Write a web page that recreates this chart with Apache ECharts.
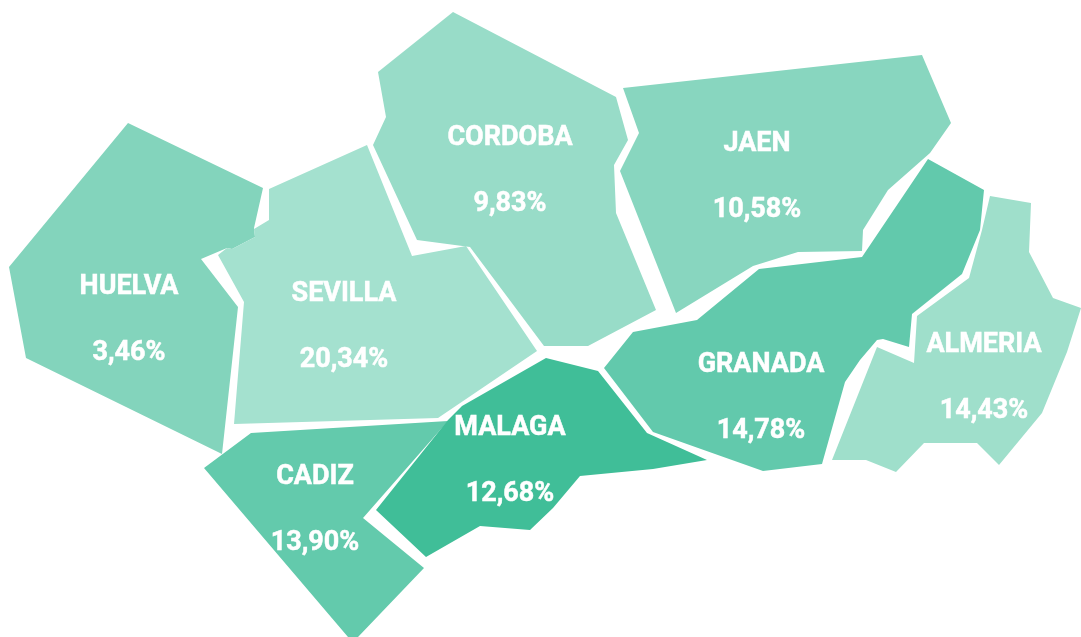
<!doctype html>
<html>
<head>
<meta charset="utf-8" />
<style>
  html, body { margin: 0; padding: 0; background: #fff; }
  #chart { width: 1081px; height: 637px; }
</style>
<script src="https://cdn.jsdelivr.net/npm/echarts@6/dist/echarts.min.js"></script>
</head>
<body>
<div id="chart"></div>
<script>
const provinces = ['HUELVA', 'SEVILLA', 'CORDOBA', 'JAEN', 'GRANADA', 'ALMERIA', 'CADIZ', 'MALAGA'];
const shares = [3.46, 20.34, 9.83, 10.58, 14.78, 14.43, 13.90, 12.68];
const colors = ['#83d4bc', '#a4e1cf', '#98dcc8', '#88d6bf', '#62c9ac', '#9fdfcb', '#63caac', '#40be98'];

// province outlines, traced in picture pixels (y grows downwards)
const outlines = {
    HUELVA: [[128, 123], [263, 188], [254, 228], [255, 237], [232, 249], [227, 248], [201, 259], [238, 307], [222, 454], [26, 358], [9, 267]],
    SEVILLA: [[269, 189], [367, 145], [412, 256], [466, 246], [537, 351], [438, 418], [234, 424], [244, 302], [218, 255], [227, 248], [232, 249], [255, 237], [254, 229], [269, 220]],
    CORDOBA: [[453, 12], [616, 97], [628, 140], [614, 165], [616, 213], [656, 310], [588, 346], [544, 346], [470, 247], [417, 240], [373, 145], [386, 117], [378, 72]],
    JAEN: [[623, 88], [922, 55], [951, 123], [930, 153], [888, 190], [863, 230], [862, 251], [798, 252], [753, 266], [676, 313], [620, 171], [639, 133]],
    GRANADA: [[928, 159], [984, 190], [980, 230], [962, 274], [912, 314], [909, 347], [883, 339], [877, 340], [860, 360], [845, 382], [822, 464], [763, 471], [653, 432], [604, 368], [633, 332], [697, 320], [759, 269], [862, 257]],
    ALMERIA: [[990, 196], [1031, 203], [1029, 252], [1053, 298], [1081, 308], [1067, 352], [1042, 413], [999, 465], [977, 443], [924, 443], [896, 472], [866, 460], [832, 460], [877, 347], [914, 363], [917, 316], [969, 278], [982, 230]],
    CADIZ: [[204, 468], [251, 433], [448, 421], [363, 518], [424, 568], [358, 637], [348, 637]],
    MALAGA: [[546, 358], [598, 371], [647, 433], [707, 460], [653, 469], [580, 476], [553, 508], [530, 530], [480, 526], [426, 557], [376, 510], [448, 420], [462, 406]]
};

// label block centres, same pixel space
const labelCentres = {
    HUELVA: [129, 320],
    SEVILLA: [344, 327],
    CORDOBA: [510, 171],
    JAEN: [757, 177],
    GRANADA: [761, 398],
    ALMERIA: [984, 378],
    CADIZ: [315, 510],
    MALAGA: [510, 461]
};

const flip = ([x, y]) => [x, -y];

const geoJson = {
    type: 'FeatureCollection',
    features: provinces.map((name) => ({
        type: 'Feature',
        properties: { name, cp: flip(labelCentres[name]) },
        geometry: { type: 'Polygon', coordinates: [outlines[name].map(flip)] }
    }))
};

echarts.registerMap('andalucia', geoJson);

const textStyle = {
    color: '#fff',
    fontFamily: 'Roboto',
    fontWeight: 'bold',
    fontSize: 27,
    lineHeight: 66,
    textBorderColor: '#fff',
    textBorderWidth: 0.5
};

const chart = echarts.init(document.getElementById('chart'));
chart.setOption({
    animation: false,
    backgroundColor: '#fff',
    series: [{
        type: 'map',
        map: 'andalucia',
        roam: false,
        silent: true,
        aspectScale: 1,
        boundingCoords: [[0, 0], [1081, -637]],
        left: 0,
        top: 0,
        right: 0,
        bottom: 0,
        itemStyle: { borderWidth: 0 },
        label: {
            show: true,
            formatter: (p) => `{n|${p.name}}\n{v|${p.value.toFixed(2).replace('.', ',')}%}`,
            rich: { n: textStyle, v: textStyle }
        },
        data: provinces.map((name, i) => ({
            name,
            value: shares[i],
            itemStyle: { color: colors[i], areaColor: colors[i], borderWidth: 0 }
        }))
    }]
});
</script>
</body>
</html>
